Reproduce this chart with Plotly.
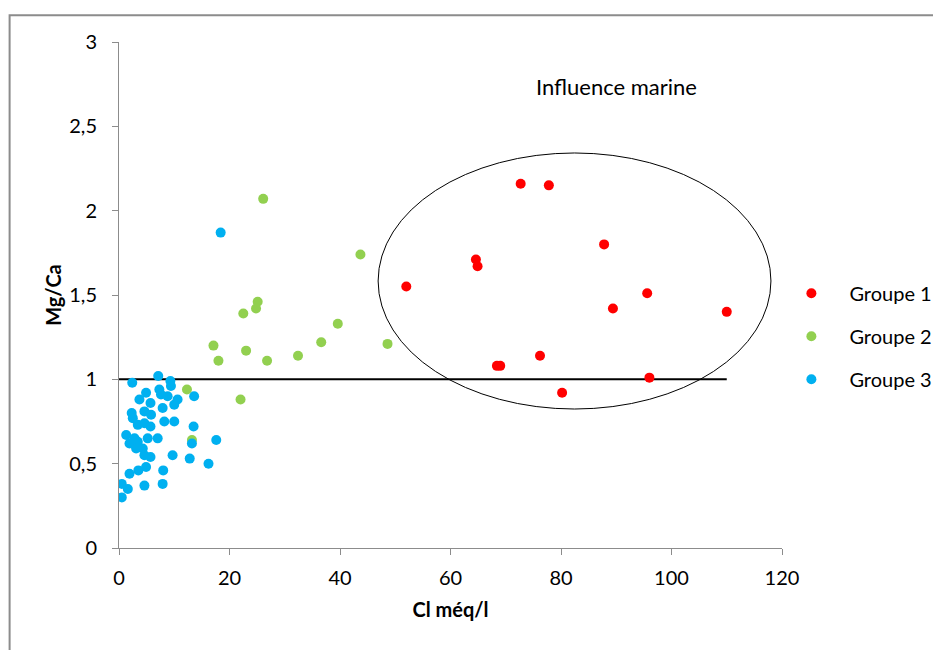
"""Mg/Ca en fonction de Cl - nuage de points par groupe"""
import plotly.graph_objects as go

# Groupe 1 (influence marine)
g1_cl = [52.0, 64.6, 64.9, 72.7, 77.8, 87.8, 89.4, 95.6, 110.0, 76.2, 68.4, 69.0, 80.2, 96.0]
g1_mgca = [1.55, 1.71, 1.67, 2.16, 2.15, 1.80, 1.42, 1.51, 1.40, 1.14, 1.08, 1.08, 0.92, 1.01]

# Groupe 2
g2_cl = [26.1, 43.7, 25.1, 24.8, 22.5, 39.6, 17.1, 23.0, 36.6, 32.4, 26.8, 18.0, 48.6, 12.3, 22.0, 13.2]
g2_mgca = [2.07, 1.74, 1.46, 1.42, 1.39, 1.33, 1.20, 1.17, 1.22, 1.14, 1.11, 1.11, 1.21, 0.94, 0.88, 0.64]

# Groupe 3
g3_cl = [18.4, 13.6, 2.4, 7.1, 9.3, 9.4, 4.9, 7.3, 3.7, 5.7, 7.6, 8.8, 10.6, 10.0,
         7.9, 4.6, 5.8, 2.3, 2.5, 3.4, 4.6, 5.7, 8.2, 10.0, 13.5, 1.3, 2.8, 1.9,
         3.4, 3.1, 4.3, 5.2, 7.0, 13.2, 17.6, 4.6, 5.7, 9.7, 12.8, 16.2, 4.9, 3.5,
         1.9, 8.0, 0.5, 1.6, 4.6, 7.9, 0.5]
g3_mgca = [1.87, 0.90, 0.98, 1.02, 0.99, 0.96, 0.92, 0.94, 0.88, 0.86, 0.91, 0.90, 0.88, 0.85,
           0.83, 0.81, 0.79, 0.80, 0.77, 0.73, 0.74, 0.72, 0.75, 0.75, 0.72, 0.67, 0.65, 0.62,
           0.63, 0.59, 0.59, 0.65, 0.65, 0.62, 0.64, 0.55, 0.54, 0.55, 0.53, 0.50, 0.48, 0.46,
           0.44, 0.46, 0.38, 0.35, 0.37, 0.38, 0.30]

# ligne Mg/Ca = 1
ligne_cl = [0, 110]
ligne_mgca = [1, 1]

# ellipse "Influence marine" (unités des axes)
ell_x = [46.9, 118.0]
ell_y = [0.824, 2.342]

FONT = "Lato, 'Open Sans', sans-serif"

fig = go.Figure()

fig.add_trace(go.Scatter(
    x=ligne_cl, y=ligne_mgca, mode='lines',
    line=dict(color='black', width=2),
    showlegend=False, hoverinfo='skip'
))

groupes = [
    ('Groupe 1', g1_cl, g1_mgca, '#FF0000'),
    ('Groupe 2', g2_cl, g2_mgca, '#92D050'),
    ('Groupe 3', g3_cl, g3_mgca, '#00B0F0'),
]
for nom, xs, ys, couleur in groupes:
    fig.add_trace(go.Scatter(
        x=xs, y=ys, mode='markers', name=nom, legendgroup=nom,
        marker=dict(color=couleur, size=10, line=dict(width=0))
    ))

fig.add_shape(
    type='circle', xref='x', yref='y',
    x0=ell_x[0], x1=ell_x[1], y0=ell_y[0], y1=ell_y[1],
    line=dict(color='black', width=1)
)

# cadre gris autour du graphique
fig.add_shape(
    type='rect', xref='paper', yref='paper',
    x0=-0.165, x1=1.5, y0=-0.5, y1=1.053,
    line=dict(color='#8c8c8c', width=2), layer='below'
)

fig.add_annotation(
    x=0.751, y=0.913, xref='paper', yref='paper',
    xanchor='center', yanchor='middle',
    text='Influence marine', showarrow=False,
    font=dict(family=FONT, size=22, color='black')
)

axe = dict(
    showgrid=False, zeroline=False, showline=True,
    linecolor='#8c8c8c', linewidth=1,
    ticks='outside', ticklen=6, tickcolor='#8c8c8c',
    tickfont=dict(family=FONT, size=20, color='black'),
)

fig.update_xaxes(
    range=[0, 120], dtick=20, ticklabelstandoff=6, **axe,
    title=dict(text='<b>Cl méq/l</b>', font=dict(family=FONT, size=20, color='black'), standoff=14)
)
fig.update_yaxes(
    range=[0, 3], dtick=0.5, tickformat='.1~f', ticklabelstandoff=11, **axe,
    title=dict(text='<b>Mg/Ca</b>', font=dict(family=FONT, size=20, color='black'), standoff=2)
)

fig.update_layout(
    width=941, height=650,
    margin=dict(l=111, r=163, t=34, b=110),
    plot_bgcolor='white', paper_bgcolor='white',
    separators=', ',
    legend=dict(
        x=0.987, y=0.542, xanchor='left', yanchor='top',
        font=dict(family=FONT, size=20, color='black'),
        tracegroupgap=14, itemwidth=66
    ),
)

fig.write_html("out.html")
